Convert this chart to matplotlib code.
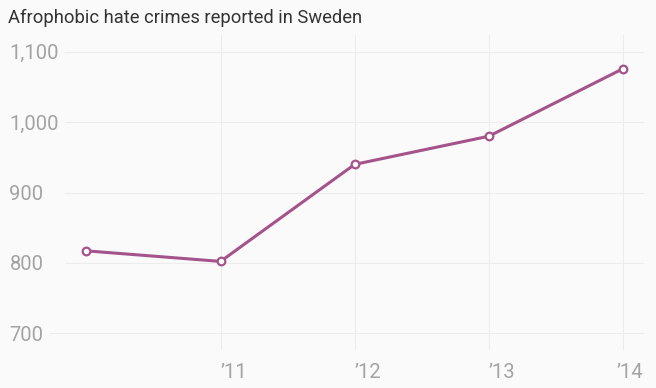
import matplotlib.pyplot as plt
import matplotlib.transforms as mtransforms

years = [2010, 2011, 2012, 2013, 2014]
crimes = [817, 802, 940, 980, 1076]
xtick_years = [2011, 2012, 2013, 2014]
xtick_labels = ["\u201911", "\u201912", "\u201913", "\u201914"]
yticks = [700, 800, 900, 1000, 1100]
ytick_labels = ["700", "800", "900", "1,000", "1,100"]

bg = '#fafafa'
line_color = '#a5538b'
grid_color = '#ececec'
tick_color = '#a3a3a3'

plt.rcParams['font.family'] = ['Roboto', 'DejaVu Sans']

fig = plt.figure(figsize=(6.56, 3.88), dpi=100, facecolor=bg)
W, H = 656, 388
ax = fig.add_axes([65 / W, 1 - 350 / H, (643 - 65) / W, (350 - 35) / H])
ax.set_facecolor(bg)

ax.set_xlim(2009.84, 2014.15)
ax.set_ylim(676, 1124)

# grid
for yt in yticks:
    xmin = -15 / 578 if yt == 700 else 0
    ax.axhline(yt, xmin=xmin, xmax=1, color=grid_color, lw=0.8, zorder=0, clip_on=False)
for xt in xtick_years:
    ax.axvline(xt, color=grid_color, lw=0.8, zorder=0)

ax.plot(years, crimes, color=line_color, lw=2.2, marker='o', markersize=5.5,
        markerfacecolor='white', markeredgecolor=line_color, markeredgewidth=1.6,
        zorder=3, solid_capstyle='round')

for s in ax.spines.values():
    s.set_visible(False)

ax.set_yticks(yticks)
ax.set_yticklabels(ytick_labels, fontsize=14.5, color=tick_color)
ax.tick_params(axis='y', length=0, pad=40)
for lbl in ax.get_yticklabels():
    lbl.set_horizontalalignment('left')

ax.set_xticks(xtick_years)
ax.set_xticklabels(xtick_labels, fontsize=14.5, color=tick_color)
ax.tick_params(axis='x', length=0, pad=9)
xlbls = ax.get_xticklabels()
for lbl in xlbls:
    lbl.set_horizontalalignment('left')
xlbls[-1].set_transform(xlbls[-1].get_transform() +
                        mtransforms.ScaledTranslation(-6 / 100, 0, fig.dpi_scale_trans))

fig.text(8 / W, 1 - 18 / H, "Afrophobic hate crimes reported in Sweden",
         fontsize=13.2, color='#333333', ha='left', va='center')

fig.savefig('out.png', dpi=100, facecolor=bg)
